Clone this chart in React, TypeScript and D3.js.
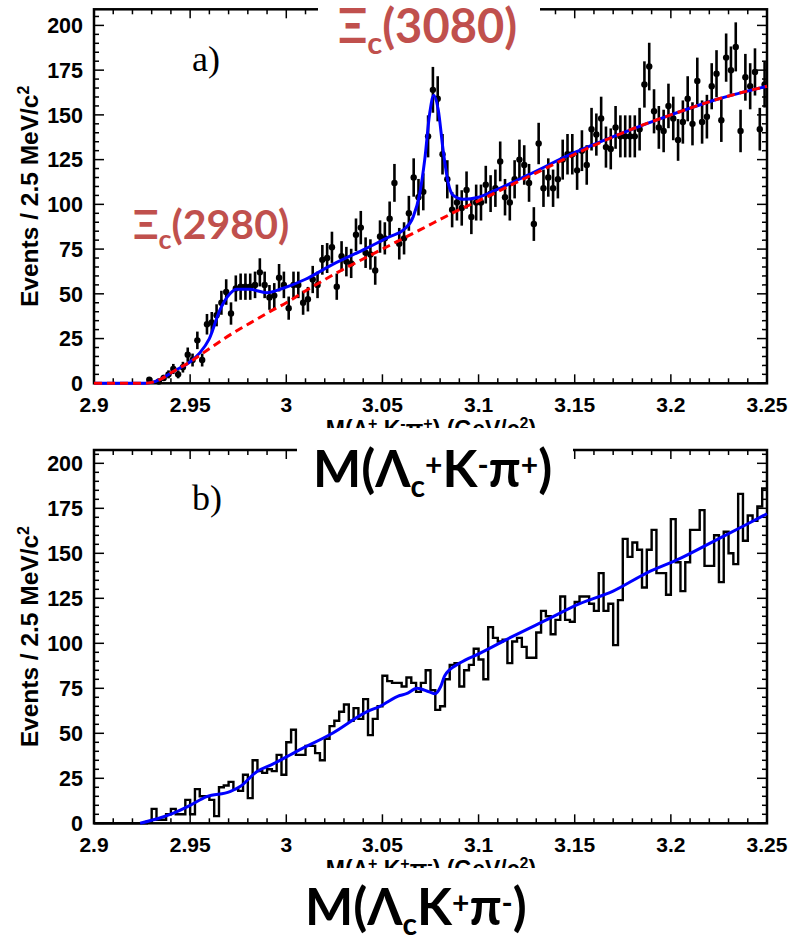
import React from 'react';
import * as d3 from 'd3';

const W = 789;
const H = 940;
const massMin = 2.9;
const massMax = 3.25;
const binWidth = 0.0025;

const xTickValues = [2.9, 2.95, 3.0, 3.05, 3.1, 3.15, 3.2, 3.25];
const xTickLabels = ['2.9', '2.95', '3', '3.05', '3.1', '3.15', '3.2', '3.25'];
const yTickValues = [0, 25, 50, 75, 100, 125, 150, 175, 200];
const yTickLabels = ['0', '25', '50', '75', '100', '125', '150', '175', '200'];

// panel a) : Lambda_c+ K- pi+ data points (counts per 2.5 MeV bin, bins 0..139)
const topCounts: (number | null)[] = [
  null, null, null, null, null, null, null, null, null, null, null,
  2, null, 1, 3, 5, 8, 5, 9, 16, 13,
  24, 13, 33, 34, 38, 45, 51, 39, 53, 54,
  54, 54, 55, 62, 55, 48, 49, 59, 55, 42,
  55, 55, 45, 47, 58, 55, 69, 70, 76, 54,
  71, 68, 67, 83, 87, 73, 72, 63, 82, 81,
  92, 112, 78, 81, 95, 115, 104, 107, 138, 164,
  159, 128, 114, 97, 101, 98, 108, 93, 101, 101,
  111, 106, 109, 124, 104, 101, 114, 125, 122, 112,
  89, 134, 109, 115, 109, 114, 125, 128, 128, 119,
  130, 122, 142, 139, 148, 132, 131, 143, 138, 138,
  138, 138, 142, 167, 177, 152, 143, 141, 155, 148,
  136, 146, 159, 145, 169, 146, 149, 166, 173, 147,
  182, 175, 188, 141, 171, 166, 174, 142, 167,
];

// panel b) : Lambda_c K+ pi- histogram (bins 0..139)
const bottomCounts: number[] = [
  0, 0, 0, 0, 0, 0, 0, 0, 0, 0, 0,
  1, 8, 2, 2, 5, 8, 5, 5, 13, 5,
  19, 15, 15, 13, 4, 20, 21, 23, 19, 18,
  27, 14, 35, 29, 28, 30, 29, 38, 27, 45,
  52, 38, 38, 43, 43, 39, 35, 47, 54, 57,
  62, 66, 57, 64, 58, 69, 49, 58, 65, 82,
  79, 78, 78, 76, 81, 78, 73, 78, 85, 74,
  63, 65, 80, 88, 89, 76, 85, 88, 97, 91,
  80, 109, 103, 101, 102, 89, 101, 103, 98, 92,
  92, 106, 118, 115, 105, 113, 126, 113, 112, 123,
  126, 126, 122, 118, 139, 118, 122, 99, 124, 158,
  148, 156, 152, 131, 152, 163, 139, 139, 127, 169,
  145, 129, 145, 163, 163, 174, 143, 143, 160, 134,
  162, 150, 144, 183, 157, 171, 168, 176, 186,
];

// panel a) background fit (red dashed)
const topBgMass = [2.9, 2.926, 2.93, 2.935, 2.941, 2.95, 2.959, 2.967, 2.976, 2.985, 2.993, 3.0, 3.009, 3.025, 3.05, 3.07, 3.09, 3.1, 3.125, 3.15, 3.175, 3.2, 3.225, 3.25];
const topBgValue = [0, 0, 0.5, 2.5, 6.5, 12, 18.6, 24.5, 30.5, 36, 41, 45, 51, 61, 75, 86, 97, 102, 115, 128, 140, 150, 159, 166];

// panel a) total fit (blue)
const topFitMass = [2.9, 2.926, 2.93, 2.935, 2.941, 2.95, 2.955, 2.96, 2.9655, 2.9707, 2.974, 2.981, 2.9898, 2.998, 3.0097, 3.0244, 3.0417, 3.0538, 3.0608, 3.066, 3.0694, 3.072, 3.0746, 3.0767, 3.079, 3.0816, 3.0842, 3.0868, 3.092, 3.1, 3.11, 3.125, 3.15, 3.175, 3.2, 3.225, 3.25];
const topFitValue = [0, 0, 0.5, 2.5, 6.5, 12, 17, 25, 41, 50, 52.5, 52.5, 50.6, 53, 58, 66.6, 75.4, 82, 85.6, 93, 106, 125, 151, 161, 153, 130, 112, 105, 102.8, 104, 108.5, 116, 129, 140, 150, 159, 166];

// panel b) fit (blue)
const botFitMass = [2.924, 2.935, 2.941, 2.95, 2.9586, 2.9707, 2.976, 2.9846, 2.9932, 3.0054, 3.024, 3.042, 3.0487, 3.059, 3.0625, 3.068, 3.0743, 3.0774, 3.0803, 3.0824, 3.0902, 3.1006, 3.118, 3.1353, 3.1526, 3.17, 3.1873, 3.2046, 3.222, 3.2393, 3.25];
const botFitValue = [0, 3.2, 5.5, 10, 14.8, 17.6, 20.4, 28.7, 33, 40, 50, 62, 65, 71, 72, 75, 73, 72, 76, 82, 89, 94.4, 104, 113, 122, 129, 139, 147, 156.5, 166, 172];

const AXIS_FONT = "'Liberation Sans', Arial, Helvetica, sans-serif";
const LABEL_FONT = "Lato, 'Open Sans', sans-serif";
const SERIF = "'Liberation Serif', 'Times New Roman', serif";
const RED_LABEL = '#C0504D';

const x = d3.scaleLinear().domain([massMin, massMax]).range([94, 767]);

type PanelProps = {
  y: d3.ScaleLinear<number, number>;
  top: number;
  bottom: number;
};

function Frame({ y, top, bottom }: PanelProps) {
  const left = x(massMin);
  const right = x(massMax);
  const xMinor = d3.range(0, 36).map((k) => massMin + k * 0.01);
  const yMinor = d3.range(0, 42).map((k) => k * 5).filter((v) => y(v) >= top);
  return (
    <g>
      {xMinor.map((m, i) => {
        const major = i % 5 === 0;
        const len = major ? 9 : 5;
        return (
          <g key={'xt' + i}>
            <line x1={x(m)} x2={x(m)} y1={bottom} y2={bottom - len} stroke="#000" strokeWidth={1.5} />
            <line x1={x(m)} x2={x(m)} y1={top} y2={top + len} stroke="#000" strokeWidth={1.5} />
          </g>
        );
      })}
      {yMinor.map((v, i) => {
        const major = v % 25 === 0;
        const len = major ? 10 : 5;
        return (
          <g key={'yt' + i}>
            <line x1={left} x2={left + len} y1={y(v)} y2={y(v)} stroke="#000" strokeWidth={1.5} />
            <line x1={right} x2={right - len} y1={y(v)} y2={y(v)} stroke="#000" strokeWidth={1.5} />
          </g>
        );
      })}
      <rect x={left} y={top} width={right - left} height={bottom - top} fill="none" stroke="#000" strokeWidth={2.5} />
      {xTickValues.map((m, i) => (
        <text key={'xl' + i} x={x(m)} y={bottom + 29} textAnchor="middle" fontFamily={AXIS_FONT} fontWeight={700} fontSize={21}>
          {xTickLabels[i]}
        </text>
      ))}
      {yTickValues.map((v, i) => (
        <text key={'yl' + i} x={83} y={y(v)} dy="0.36em" textAnchor="end" fontFamily={AXIS_FONT} fontWeight={700} fontSize={21.5}>
          {yTickLabels[i]}
        </text>
      ))}
      <text
        transform={`translate(38, ${(top + bottom) / 2}) rotate(-90)`}
        textAnchor="middle"
        fontFamily={AXIS_FONT}
        fontWeight={700}
        fontSize={24.5}
      >
        Events / 2.5 MeV/c<tspan dy={-9} fontSize={16}>2</tspan>
      </text>
    </g>
  );
}

function AxisTitle({ yBase, kSign, piSign }: { yBase: number; kSign: string; piSign: string }) {
  return (
    <text x={431} y={yBase} textAnchor="middle" fontFamily={AXIS_FONT} fontWeight={700} fontSize={23}>
      M(Λ<tspan dy={-8} fontSize={16}>+</tspan>
      <tspan dy={8}> K</tspan>
      <tspan dy={-8} fontSize={16}>{kSign}</tspan>
      <tspan dy={8}>π</tspan>
      <tspan dy={-8} fontSize={16}>{piSign}</tspan>
      <tspan dy={8}>)   (GeV/c</tspan>
      <tspan dy={-8} fontSize={16}>2</tspan>
      <tspan dy={8}>)</tspan>
    </text>
  );
}

export default function App() {
  const yTop = d3.scaleLinear().domain([0, 209]).range([383.3, 9.3]);
  const yBot = d3.scaleLinear().domain([0, 207.4]).range([823.3, 450]);

  const lineTop = d3
    .line<[number, number]>()
    .x((d) => x(d[0]))
    .y((d) => yTop(d[1]))
    .curve(d3.curveMonotoneX);
  const lineBot = d3
    .line<[number, number]>()
    .x((d) => x(d[0]))
    .y((d) => yBot(d[1]))
    .curve(d3.curveMonotoneX);

  const bgPts: [number, number][] = topBgMass.map((m, i) => [m, topBgValue[i]]);
  const fitPts: [number, number][] = topFitMass.map((m, i) => [m, topFitValue[i]]);
  const botPts: [number, number][] = botFitMass.map((m, i) => [m, botFitValue[i]]);

  const histPts: [number, number][] = bottomCounts.map((c, i) => [massMin + i * binWidth, c]);
  histPts.push([massMax, bottomCounts[bottomCounts.length - 1]]);
  const histLine = d3
    .line<[number, number]>()
    .x((d) => x(d[0]))
    .y((d) => yBot(d[1]))
    .curve(d3.curveStepAfter);

  return (
    <svg width={W} height={H} style={{ position: 'absolute', left: 0, top: 0, background: '#fff' }}>
      <rect x={0} y={0} width={W} height={H} fill="#fff" />

      {/* ---------- panel a ---------- */}
      <Frame y={yTop} top={9.3} bottom={383.3} />
      <AxisTitle yBase={437} kSign="-" piSign="+" />
      <text x={192} y={71} fontFamily={SERIF} fontSize={36}>a)</text>
      <g>
        {topCounts.map((c, i) => {
          if (c === null) return null;
          const cx = x(massMin + (i + 0.5) * binWidth);
          const err = Math.sqrt(c);
          return (
            <g key={'p' + i}>
              {c > 0 && (
                <line x1={cx} x2={cx} y1={yTop(c - err)} y2={yTop(c + err)} stroke="#000" strokeWidth={2.6} />
              )}
              <circle cx={cx} cy={yTop(c)} r={3.2} fill="#000" />
            </g>
          );
        })}
      </g>
      <path d={lineTop(fitPts) || ''} fill="none" stroke="#0000ff" strokeWidth={3} />
      <path d={lineTop(bgPts) || ''} fill="none" stroke="#ff0000" strokeWidth={3} strokeDasharray="8 5" />

      <rect x={318} y={0} width={222} height={56} fill="#fff" />
      <text x={338} y={43} fontFamily={LABEL_FONT} fontWeight={700} fontSize={47} fill={RED_LABEL}>
        Ξ<tspan dy={11} fontSize={31}>c</tspan>
        <tspan dy={-11}>(3080)</tspan>
      </text>
      <text x={133} y={239} fontFamily={LABEL_FONT} fontWeight={700} fontSize={41} fill={RED_LABEL}>
        Ξ<tspan dy={10} fontSize={27}>c</tspan>
        <tspan dy={-10}>(2980)</tspan>
      </text>

      {/* ---------- panel b ---------- */}
      <path d={histLine(histPts) || ''} fill="none" stroke="#000" strokeWidth={2.4} />
      <Frame y={yBot} top={450} bottom={823.3} />
      <path d={lineBot(botPts) || ''} fill="none" stroke="#0000ff" strokeWidth={3} />
      <AxisTitle yBase={877} kSign="+" piSign="-" />
      <text x={192} y={510} fontFamily={SERIF} fontSize={36}>b)</text>

      <rect x={297} y={428} width={276} height={77} fill="#fff" />
      <text x={313} y={487} fontFamily={LABEL_FONT} fontWeight={700} fontSize={51} fill="#000">
        M(Λ<tspan dy={10} fontSize={30}>c</tspan>
        <tspan dy={-21} fontSize={30}>+</tspan>
        <tspan dy={11}>K</tspan>
        <tspan dy={-11} fontSize={30}>-</tspan>
        <tspan dy={11}>π</tspan>
        <tspan dy={-11} fontSize={30}>+</tspan>
        <tspan dy={11}>)</tspan>
      </text>

      <rect x={280} y={868} width={300} height={72} fill="#fff" />
      <text x={305} y={925} fontFamily={LABEL_FONT} fontWeight={700} fontSize={51} fill="#000">
        M(Λ<tspan dy={10} fontSize={30}>c</tspan>
        <tspan dy={-10}>K</tspan>
        <tspan dy={-11} fontSize={30}>+</tspan>
        <tspan dy={11}>π</tspan>
        <tspan dy={-11} fontSize={30}>-</tspan>
        <tspan dy={11}>)</tspan>
      </text>
    </svg>
  );
}
